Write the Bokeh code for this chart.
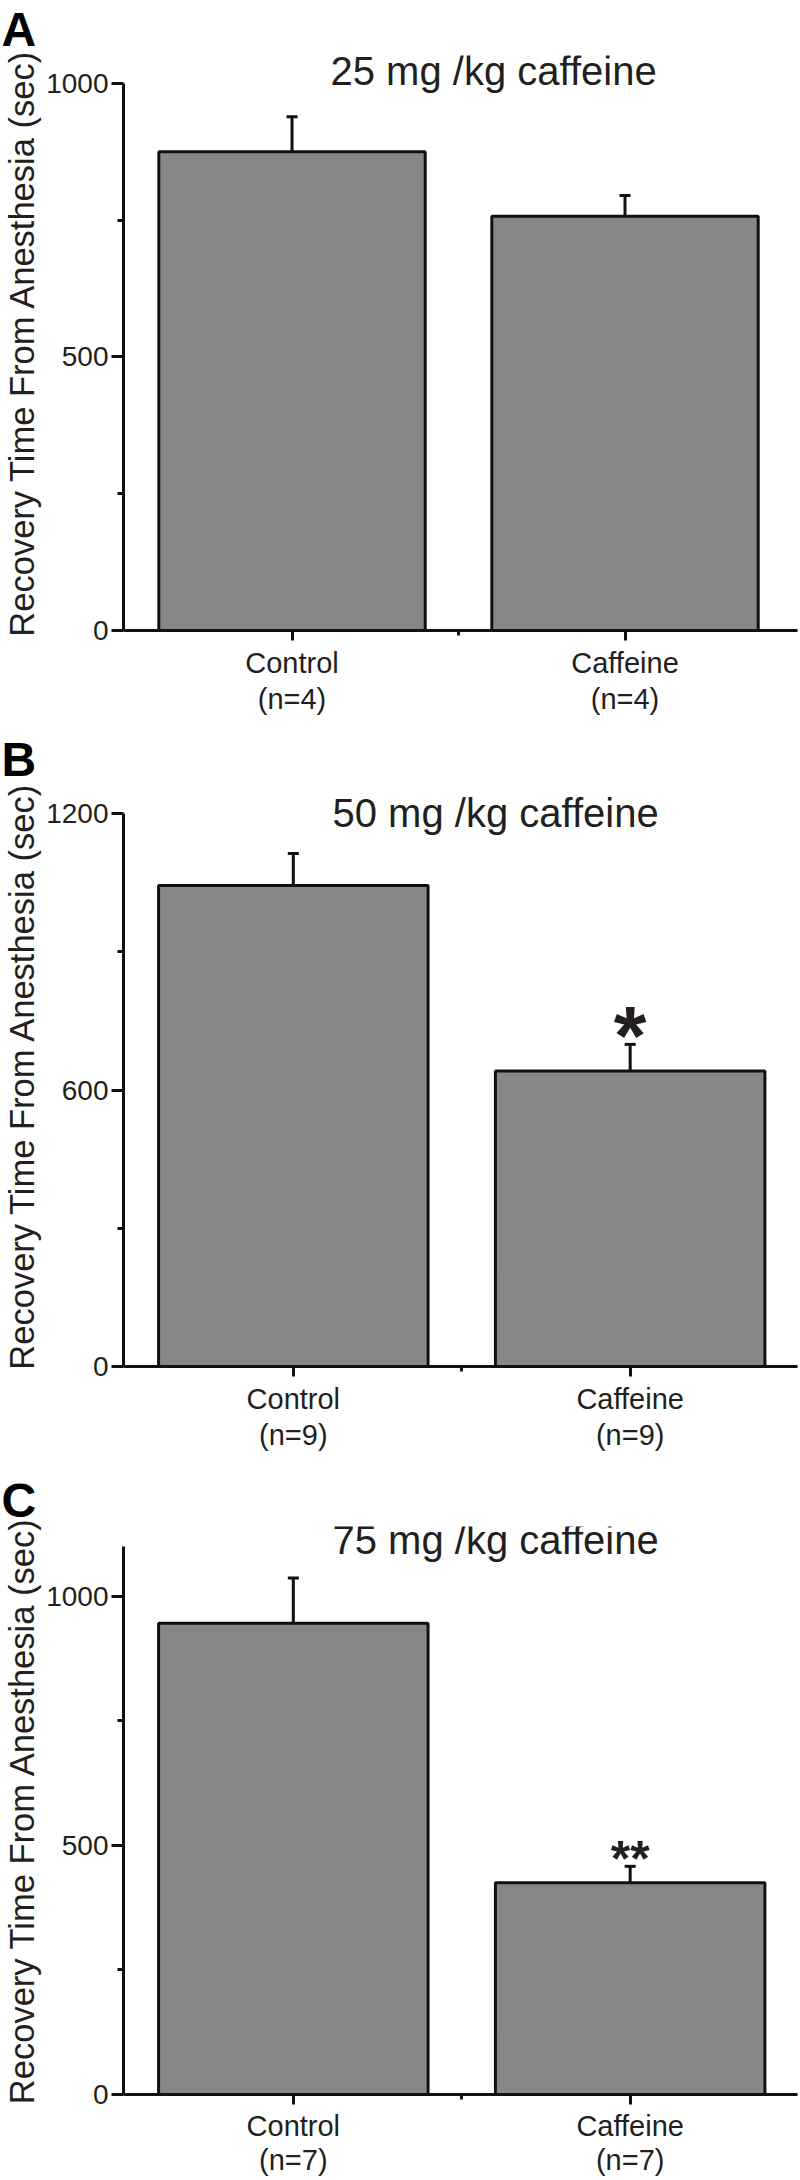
from bokeh.plotting import figure
from bokeh.models import Range1d, FixedTicker, Label, ColumnDataSource, Whisker, TeeHead
from bokeh.layouts import column
from bokeh.embed import file_html
from bokeh.resources import INLINE
from bokeh.core.properties import value

# ---------------- data ----------------
categories = ["Control", "Caffeine"]
panel_letters = ["A", "B", "C"]
panel_titles = ["25 mg /kg caffeine", "50 mg /kg caffeine", "75 mg /kg caffeine"]
group_sizes_A = [4, 4]
group_sizes_B = [9, 9]
group_sizes_C = [7, 7]
means_A = [875, 757]
means_B = [1044, 641]
means_C = [946, 425]
sem_A = [64, 38]
sem_B = [69, 58]
sem_C = [91, 33]
signif_A = ["", ""]
signif_B = ["", "*"]
signif_C = ["", "**"]
y_max = [1000, 1200, 1100]
y_major_ticks = [[0, 500, 1000], [0, 600, 1200], [0, 500, 1000]]
y_minor_ticks = [[250, 750], [300, 900], [250, 750]]
y_label = "Recovery Time From Anesthesia (sec)"

group_sizes = [group_sizes_A, group_sizes_B, group_sizes_C]
means = [means_A, means_B, means_C]
sems = [sem_A, sem_B, sem_C]
signif = [signif_A, signif_B, signif_C]

# ---------------- layout / style ----------------
FONT = "Liberation Sans"
TXT = "#231f20"
LINE = "#111111"
BAR = "#878787"
FIG_W = 800
FIG_H = [728, 736, 716]
BORDER_TOP = [53, 57, 62]
BORDER_BOTTOM = [98, 98, 86]
X_START = [-0.0122, -0.0083, -0.0083]
X_END = [4.036, 3.9935, 3.9935]
LETTER_LH = [0.9, 1.0, 1.0]
XLABEL_LH = [1.15, 1.15, 1.08]
XLABEL_STANDOFF = [6, 6, 5]
AXIS_TOP = [81, 85, 82]          # canvas px of the y-axis maximum
TITLE_X = [330, 332, 332]
TITLE_BASELINE = [70, 84, 75]
STAR_SIZE = ["84px", "84px", "50px"]
STAR_OFFSET = [-8, -8, -7]
LW = 3


def make_panel(i):
    fh = FIG_H[i]
    bt = BORDER_TOP[i]
    bb = BORDER_BOTTOM[i]
    frame_h = fh - bb - bt
    y_end = y_max[i] * frame_h / (frame_h - (AXIS_TOP[i] - bt))
    p = figure(width=FIG_W, height=fh, x_range=Range1d(X_START[i], X_END[i]), y_range=Range1d(0, y_end),
               output_backend="svg", toolbar_location=None,
               min_border_left=118, min_border_right=3, min_border_top=bt, min_border_bottom=bb)
    p.outline_line_color = None
    p.grid.visible = False
    p.background_fill_color = "white"

    # panel letter as the figure title (drawn outside the frame)
    p.title.text = panel_letters[i]
    p.title.align = "left"
    p.title.offset = -122
    p.title.standoff = 0
    p.title.text_font = FONT
    p.title.text_font_size = "48px"
    p.title.text_font_style = "bold"
    p.title.text_line_height = LETTER_LH[i]
    p.title.text_color = "#000000"

    xs = [2 * k + 1 for k in range(len(categories))]
    upper = [m + s for m, s in zip(means[i], sems[i])]
    src = ColumnDataSource(dict(x=xs, top=means[i], upper=upper, sig=signif[i]))

    p.add_layout(Whisker(source=src, base="x", lower="top", upper="upper", dimension="height",
                         line_width=LW, line_color=LINE, lower_head=None,
                         upper_head=TeeHead(size=11, line_width=LW, line_color=LINE)))
    p.vbar(x="x", top="top", bottom=0, width=1.6, source=src,
           fill_color=BAR, line_color=LINE, line_width=LW)
    p.text(x="x", y="upper", text="sig", source=src, text_font=value(FONT),
           text_font_style="bold", text_font_size=STAR_SIZE[i], text_color=TXT,
           text_align="center", text_baseline="alphabetic", y_offset=STAR_OFFSET[i])

    # y axis
    yax = p.yaxis[0]
    yax.bounds = (0, y_max[i])
    yax.ticker = FixedTicker(ticks=y_major_ticks[i], minor_ticks=y_minor_ticks[i])
    yax.axis_label = y_label
    yax.axis_label_text_font = FONT
    yax.axis_label_text_font_size = "34.5px"
    yax.axis_label_text_font_style = "normal"
    yax.axis_label_text_color = TXT
    yax.axis_label_standoff = 2
    yax.major_label_text_font = FONT
    yax.major_label_text_font_size = "28px"
    yax.major_label_text_color = TXT
    yax.major_label_standoff = 3
    yax.axis_line_width = LW
    yax.axis_line_color = LINE
    yax.major_tick_line_width = LW
    yax.major_tick_line_color = LINE
    yax.minor_tick_line_width = LW
    yax.minor_tick_line_color = LINE
    yax.major_tick_in = 0
    yax.major_tick_out = 12
    yax.minor_tick_in = 0
    yax.minor_tick_out = 6

    # x axis
    xax = p.xaxis[0]
    xax.ticker = FixedTicker(ticks=xs, minor_ticks=[(xs[k] + xs[k + 1]) / 2 for k in range(len(xs) - 1)])
    xax.major_label_overrides = {x: f"{c}\n(n={n})" for x, c, n in zip(xs, categories, group_sizes[i])}
    xax.major_label_text_font = FONT
    xax.major_label_text_font_size = "29px"
    xax.major_label_text_color = TXT
    xax.major_label_text_line_height = XLABEL_LH[i]
    xax.major_label_standoff = XLABEL_STANDOFF[i]
    xax.axis_line_width = LW
    xax.axis_line_color = LINE
    xax.major_tick_line_width = LW
    xax.major_tick_line_color = LINE
    xax.minor_tick_line_width = LW
    xax.minor_tick_line_color = LINE
    xax.major_tick_in = 0
    xax.major_tick_out = 10
    xax.minor_tick_in = 0
    xax.minor_tick_out = 5

    p.add_layout(Label(x=TITLE_X[i], y=TITLE_BASELINE[i], x_units="canvas", y_units="canvas",
                       text=panel_titles[i], text_font=FONT, text_font_size="40px",
                       text_color=TXT, text_align="left", text_baseline="alphabetic"))
    return p


layout = column(*[make_panel(i) for i in range(3)], spacing=0)
open("out.html", "w").write(file_html(layout, INLINE))
